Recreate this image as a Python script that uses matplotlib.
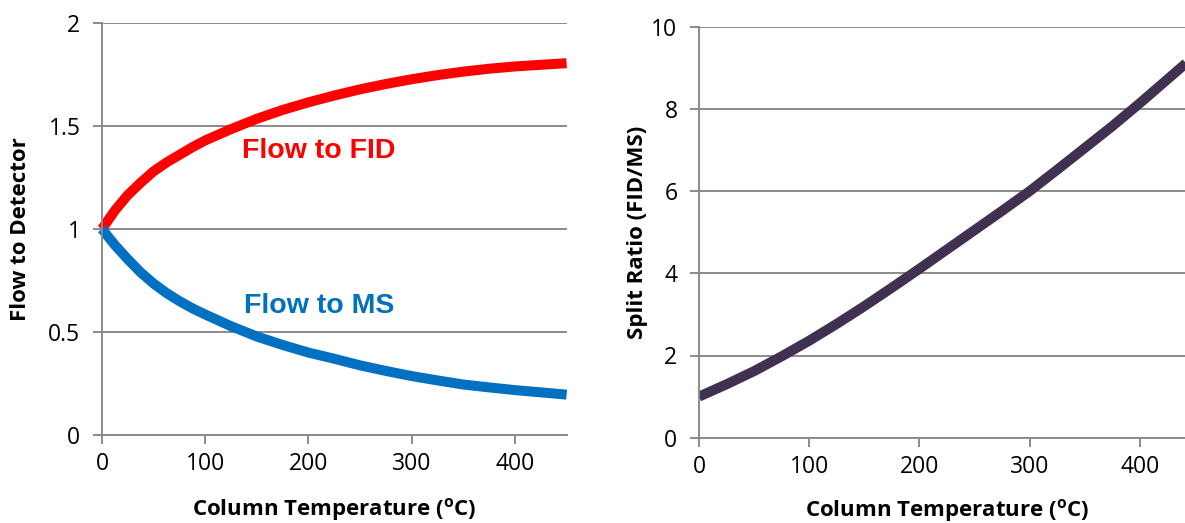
import matplotlib
matplotlib.use("Agg")
import matplotlib.pyplot as plt

# ---- data ----
temp = [0, 12.5, 25, 37.5, 50, 62.5, 75, 87.5, 100, 125, 150, 175, 200, 225, 250,
        275, 300, 325, 350, 375, 400, 425, 450]
flow_fid = [1.0, 1.09, 1.165, 1.225, 1.28, 1.323, 1.36, 1.397, 1.43, 1.485, 1.535,
            1.578, 1.615, 1.648, 1.678, 1.704, 1.727, 1.747, 1.764, 1.778, 1.789,
            1.797, 1.805]
flow_ms = [1.0, 0.922, 0.853, 0.789, 0.735, 0.689, 0.65, 0.615, 0.585, 0.528, 0.478,
           0.437, 0.40, 0.37, 0.338, 0.311, 0.286, 0.265, 0.245, 0.231, 0.218,
           0.207, 0.196]

split_temp = [0, 25, 50, 75, 100, 125, 150, 175, 200, 225, 250, 275, 300, 325, 350,
              375, 400, 425, 450]
split_ratio = [1.0, 1.30, 1.62, 1.98, 2.36, 2.77, 3.20, 3.65, 4.11, 4.58, 5.05, 5.52,
               6.00, 6.52, 7.05, 7.58, 8.14, 8.72, 9.30]

x_ticks = [0, 100, 200, 300, 400]
left_yticks = [0, 0.5, 1, 1.5, 2]
left_yticklabels = ["0", "0.5", "1", "1.5", "2"]
right_yticks = [0, 2, 4, 6, 8, 10]

xlabel = r"Column Temperature ($^{\mathbf{o}}$C)"
left_ylabel = "Flow to Detector"
right_ylabel = "Split Ratio (FID/MS)"
fid_label = "Flow to FID"
ms_label = "Flow to MS"

plt.rcParams["font.family"] = ["Open Sans", "DejaVu Sans"]
plt.rcParams["mathtext.fontset"] = "custom"
plt.rcParams["mathtext.rm"] = "Open Sans"
plt.rcParams["mathtext.bf"] = "Open Sans:bold"

GRID = "#8a8a8a"
RED = "#ff0000"
BLUE = "#0070c0"
PURPLE = "#403151"

W, H = 1185, 523
fig = plt.figure(figsize=(W / 100, H / 100), dpi=100)
ax1 = fig.add_axes([102 / W, (H - 435) / H, 464.6 / W, 412 / H])
ax2 = fig.add_axes([699 / W, (H - 437.7) / H, 496 / W, 411 / H])


def style(ax):
    for s in ["top", "right"]:
        ax.spines[s].set_visible(False)
    for s in ["left", "bottom"]:
        ax.spines[s].set_color(GRID)
        ax.spines[s].set_linewidth(1.4)
    ax.tick_params(axis="both", which="major", direction="out", length=6.5,
                   width=1.4, color=GRID, labelsize=16.5, labelcolor="black")
    ax.tick_params(axis="x", pad=6)
    ax.tick_params(axis="y", pad=9)
    ax.yaxis.grid(True, color=GRID, linewidth=1.4)
    ax.set_axisbelow(True)
    ax.set_xticks(x_ticks)
    ax.set_xlim(0, 450)


style(ax1)
ax1.plot(temp, flow_fid, color=RED, linewidth=7.2, solid_capstyle="butt",
         solid_joinstyle="round", clip_on=False)
ax1.plot(temp, flow_ms, color=BLUE, linewidth=7.2, solid_capstyle="butt",
         solid_joinstyle="round", clip_on=False)
ax1.set_ylim(0, 2)
ax1.set_yticks(left_yticks)
ax1.set_yticklabels(left_yticklabels)
ax1.set_xlabel(xlabel, fontsize=16, fontweight="bold", va="center")
ax1.xaxis.set_label_coords(0.5, -0.182)
ax1.set_ylabel(left_ylabel, fontsize=16, fontweight="bold", va="center")
ax1.yaxis.set_label_coords(-0.176, 0.5)
ax1.text(210, 1.345, fid_label, color=RED, fontsize=20.5, fontweight="bold",
         family="Liberation Sans", ha="center", va="baseline")
ax1.text(210, 0.591, ms_label, color=BLUE, fontsize=20.5, fontweight="bold",
         family="Liberation Sans", ha="center", va="baseline")

style(ax2)
ax2.plot(split_temp, split_ratio, color=PURPLE, linewidth=7.2, solid_capstyle="butt",
         solid_joinstyle="round")
ax2.set_ylim(0, 10)
ax2.set_yticks(right_yticks)
ax2.set_xlabel(xlabel, fontsize=16, fontweight="bold", va="center")
ax2.xaxis.set_label_coords(0.5, -0.178)
ax2.set_ylabel(right_ylabel, fontsize=16, fontweight="bold", va="center")
ax2.yaxis.set_label_coords(-0.123, 0.5)

fig.savefig("out.png", dpi=100)
